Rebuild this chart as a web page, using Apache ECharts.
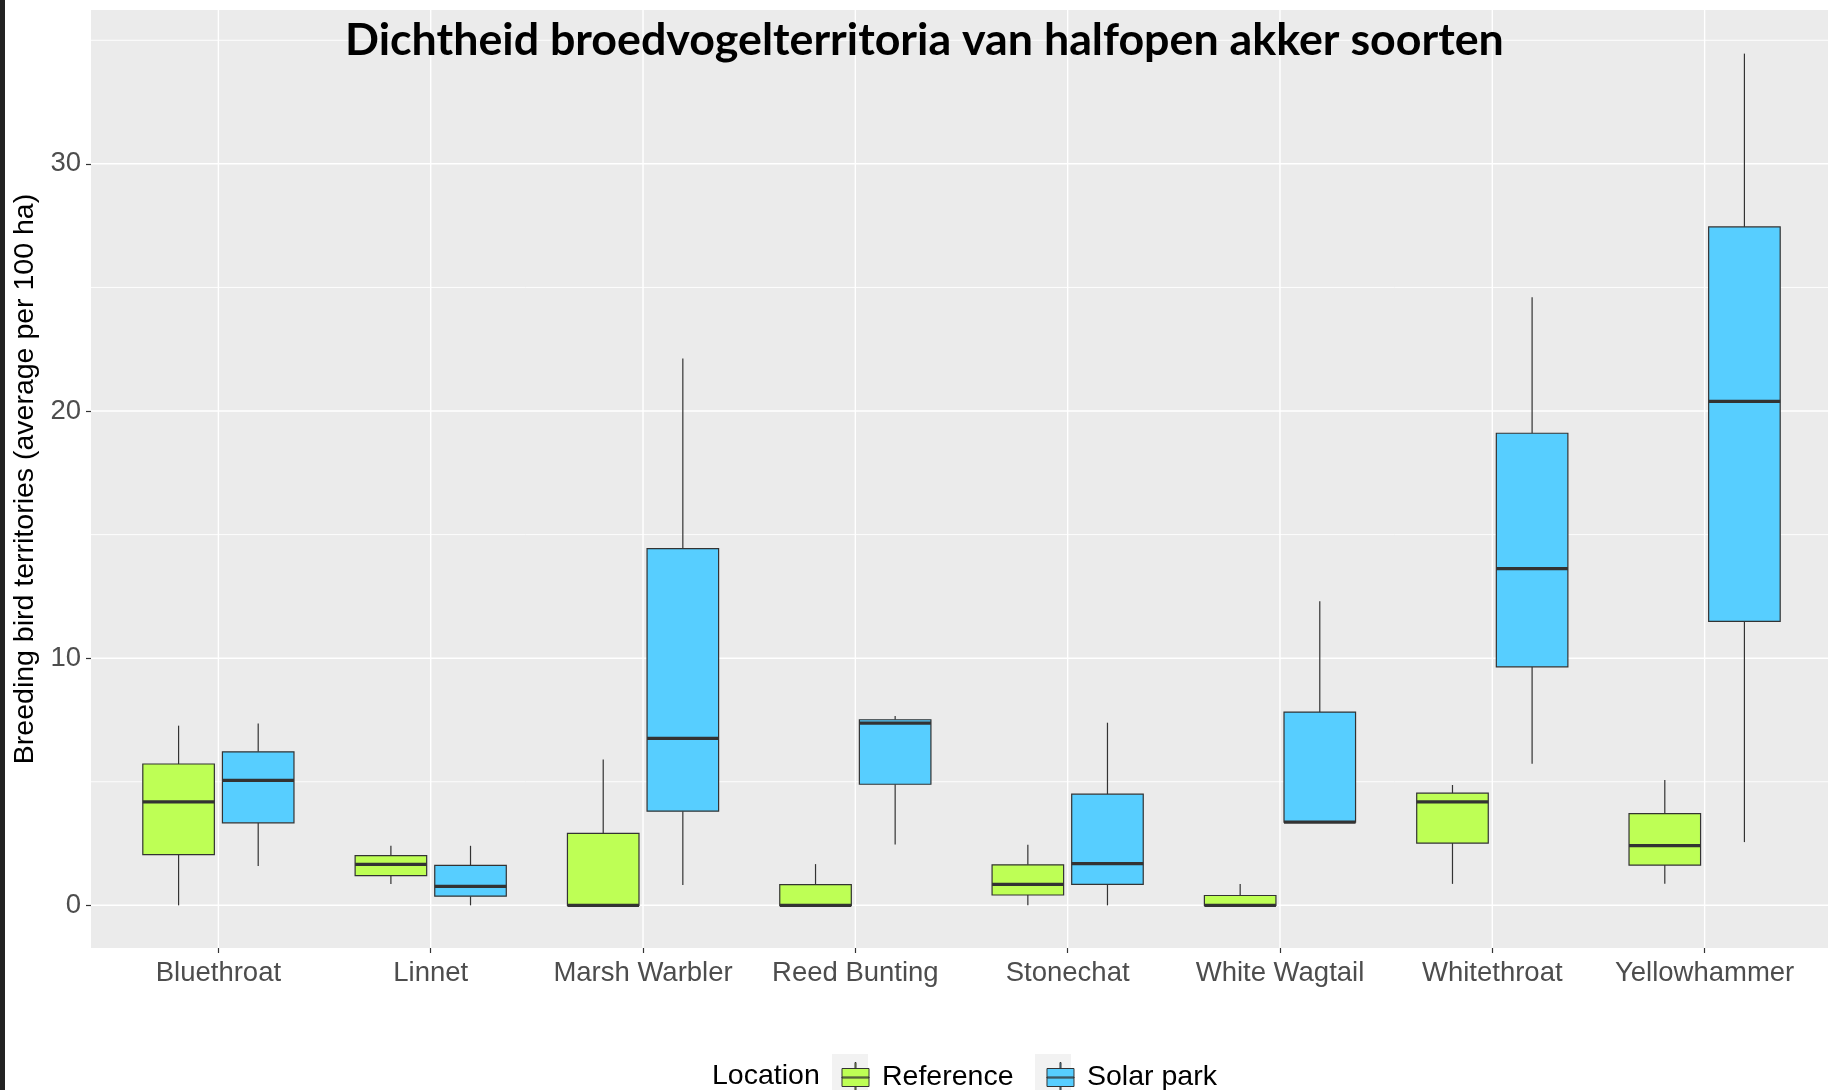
<!DOCTYPE html>
<html>
<head>
<meta charset="utf-8">
<script src="https://cdn.jsdelivr.net/npm/echarts@6/dist/echarts.min.js"></script>
<style>
  html, body { margin: 0; padding: 0; background: #ffffff; }
  #chart { width: 1828px; height: 1090px; }
</style>
</head>
<body>
<div id="chart"></div>
<script>
// ---- data ----
const categories = ["Bluethroat", "Linnet", "Marsh Warbler", "Reed Bunting", "Stonechat", "White Wagtail", "Whitethroat", "Yellowhammer"];
// [lower whisker, Q1, median, Q3, upper whisker]
const referenceStats = [
  [0.00, 2.05, 4.19, 5.72, 7.27],
  [0.86, 1.20, 1.66, 2.01, 2.41],
  [0.00, 0.00, 0.00, 2.91, 5.90],
  [0.00, 0.00, 0.00, 0.84, 1.67],
  [0.00, 0.42, 0.85, 1.64, 2.45],
  [0.00, 0.00, 0.00, 0.40, 0.86],
  [0.87, 2.52, 4.19, 4.54, 4.87],
  [0.87, 1.63, 2.42, 3.71, 5.07]
];
const solarParkStats = [
  [1.59, 3.34, 5.06, 6.21, 7.36],
  [0.00, 0.37, 0.77, 1.62, 2.41],
  [0.82, 3.81, 6.76, 14.43, 22.13],
  [2.46, 4.90, 7.37, 7.51, 7.66],
  [0.00, 0.85, 1.69, 4.50, 7.39],
  [3.37, 3.37, 3.37, 7.82, 12.30],
  [5.73, 9.65, 13.62, 19.10, 24.60],
  [2.56, 11.49, 20.39, 27.45, 34.46]
];
const seriesNames = ["Reference", "Solar park"];
const yTickValues = [0, 10, 20, 30];
const yMinorValues = [5, 15, 25, 35];
const yMin = -1.725;
const yMax = 36.225;
const xPositions = categories.map((c, i) => i);
const xMin = -0.6;
const xMax = categories.length - 1 + 0.6;

// ---- styling ----
const GREEN = '#BEFF55';
const BLUE = '#57CEFF';
const EDGE = '#333333';
const BOX_OFFSET = 0.1875;   // fraction of one category step
const BOX_WIDTH = 0.337;     // fraction of one category step
const LABEL_FONT = 'Liberation Sans, Arial, sans-serif';

function toRows(stats) {
  return stats.map((s, i) => [i].concat(s));
}

function boxRenderer(side, color) {
  return function (params, api) {
    const cat = api.value(0);
    const step = api.size([1, 0])[0];
    const cx = api.coord([cat, 0])[0] + side * BOX_OFFSET * step;
    const w = BOX_WIDTH * step;
    const yLow = api.coord([cat, api.value(1)])[1];
    const yQ1 = api.coord([cat, api.value(2)])[1];
    const yMed = api.coord([cat, api.value(3)])[1];
    const yQ3 = api.coord([cat, api.value(4)])[1];
    const yHigh = api.coord([cat, api.value(5)])[1];
    const lineStyle = { stroke: EDGE, lineWidth: 1.2 };
    return {
      type: 'group',
      children: [
        { type: 'line', shape: { x1: cx, y1: yQ3, x2: cx, y2: yHigh }, style: lineStyle },
        { type: 'line', shape: { x1: cx, y1: yQ1, x2: cx, y2: yLow }, style: lineStyle },
        { type: 'rect', shape: { x: cx - w / 2, y: yQ3, width: w, height: yQ1 - yQ3 },
          style: { fill: color, stroke: EDGE, lineWidth: 1.2 } },
        { type: 'line', shape: { x1: cx - w / 2, y1: yMed, x2: cx + w / 2, y2: yMed },
          style: { stroke: EDGE, lineWidth: 3.2 } }
      ]
    };
  };
}

// all panel grid lines, placed through the axes' scales
function gridRenderer(params, api) {
  const cs = params.coordSys;
  const children = [];
  yMinorValues.forEach(function (v) {
    const y = api.coord([0, v])[1];
    children.push({ type: 'line', shape: { x1: cs.x, y1: y, x2: cs.x + cs.width, y2: y },
      style: { stroke: '#FFFFFF', lineWidth: 0.9 } });
  });
  yTickValues.forEach(function (v) {
    const y = api.coord([0, v])[1];
    children.push({ type: 'line', shape: { x1: cs.x, y1: y, x2: cs.x + cs.width, y2: y },
      style: { stroke: '#FFFFFF', lineWidth: 1.5 } });
  });
  xPositions.forEach(function (i) {
    const x = api.coord([i, 0])[0];
    children.push({ type: 'line', shape: { x1: x, y1: cs.y, x2: x, y2: cs.y + cs.height },
      style: { stroke: '#FFFFFF', lineWidth: 1.4 } });
  });
  return { type: 'group', children: children };
}

const ICON = 'path://M0,6H27V24H0Z M13,0H14V6H13Z M13,24H14V29H13Z M0,14.5H27V15.5H0Z';

const chart = echarts.init(document.getElementById('chart'), null, { renderer: 'canvas' });
chart.setOption({
  animation: false,
  backgroundColor: '#FFFFFF',
  title: {
    text: 'Dichtheid broedvogelterritoria van halfopen akker soorten',
    left: 340,
    top: 13,
    textStyle: { fontFamily: 'Lato, sans-serif', fontWeight: 'bold', fontSize: 44.75, color: '#000000' }
  },
  grid: {
    left: 91, right: -4, top: 10, bottom: 142,
    show: true, backgroundColor: '#EBEBEB', borderWidth: 0,
    containLabel: false, outerBoundsMode: 'none'
  },
  legend: {
    data: [{ name: 'Reference', icon: ICON }, { name: 'Solar park', icon: ICON }],
    left: 836.5,
    top: 1057,
    itemWidth: 27,
    itemHeight: 29,
    itemGap: 33,
    selectedMode: false,
    itemStyle: { borderColor: EDGE, borderWidth: 1 },
    textStyle: { fontFamily: LABEL_FONT, fontSize: 28.5, color: '#000000', padding: [0, 0, 0, 8] }
  },
  graphic: [
    { type: 'rect', shape: { x: 0, y: 0, width: 5, height: 1090 }, style: { fill: '#222222' }, z: 0 },
    { type: 'rect', shape: { x: 832, y: 1054, width: 36, height: 36 }, style: { fill: '#F2F2F2' }, z: 0 },
    { type: 'rect', shape: { x: 1035, y: 1054, width: 36, height: 36 }, style: { fill: '#F2F2F2' }, z: 0 },
    { type: 'text', x: 712, y: 1076,
      style: { text: 'Location', fill: '#000000', font: '28.5px "Liberation Sans", Arial, sans-serif', textVerticalAlign: 'middle' } }
  ],
  xAxis: {
    type: 'value',
    min: xMin,
    max: xMax,
    axisLine: { show: false, onZero: false },
    axisTick: { show: true, length: 5, customValues: xPositions, lineStyle: { color: EDGE, width: 1.2 } },
    axisLabel: {
      color: '#4D4D4D', fontSize: 27.5, fontFamily: LABEL_FONT, margin: 11,
      customValues: xPositions,
      formatter: function (v) { return categories[Math.round(v)]; }
    },
    splitLine: { show: false }
  },
  yAxis: {
    type: 'value',
    min: yMin,
    max: yMax,
    name: 'Breeding bird territories (average per 100 ha)',
    nameLocation: 'middle',
    nameRotate: 90,
    nameGap: 40,
    nameTextStyle: { fontFamily: LABEL_FONT, fontSize: 28.5, color: '#000000' },
    axisLine: { show: false, onZero: false },
    axisTick: { show: true, length: 5, customValues: yTickValues, lineStyle: { color: EDGE, width: 1.2 } },
    axisLabel: { color: '#4D4D4D', fontSize: 27.5, fontFamily: LABEL_FONT, margin: 10, customValues: yTickValues },
    splitLine: { show: false }
  },
  series: [
    { type: 'custom', name: 'panel grid', silent: true, z: 1, data: [[xMin, yMin]],
      encode: { x: 0, y: 1 }, renderItem: gridRenderer },
    { type: 'custom', name: seriesNames[0], z: 3, itemStyle: { color: GREEN },
      data: toRows(referenceStats), encode: { x: 0, y: [1, 2, 3, 4, 5] },
      renderItem: boxRenderer(-1, GREEN) },
    { type: 'custom', name: seriesNames[1], z: 3, itemStyle: { color: BLUE },
      data: toRows(solarParkStats), encode: { x: 0, y: [1, 2, 3, 4, 5] },
      renderItem: boxRenderer(1, BLUE) }
  ]
});
</script>
</body>
</html>
